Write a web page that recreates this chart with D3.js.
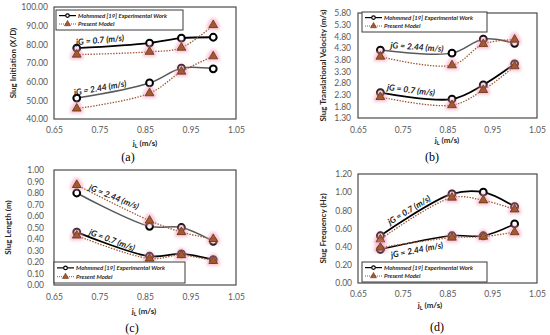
<!DOCTYPE html>
<html><head><meta charset="utf-8">
<script src="https://cdn.jsdelivr.net/npm/d3@7"></script>
<style>body{margin:0;background:#fff} svg{display:block}</style>
</head><body><svg id="c" width="550" height="335"></svg>
<script>
// ---------- data ----------
const jL = [0.70, 0.86, 0.93, 1.00];
const xTicks = [0.65, 0.75, 0.85, 0.95, 1.05];
const legendLabels = ["Mohmmed [19] Experimental Work", "Present Model"];
const jgLabels = ["jG = 0.7 (m/s)", "jG = 2.44 (m/s)"];
const panelLetters = ["(a)", "(b)", "(c)", "(d)"];
const yTitles = ["Slug Initiation (X/D)", "Slug Translational Velocity (m/s)", "Slug Length (m)", "Slug Frequency  (Hz)"];

// (a) Slug initiation
const aTicks = [40, 50, 60, 70, 80, 90, 100];
const aExp07  = [78.0, 80.7, 83.3, 83.8];
const aMod07  = [74.5, 76.0, 78.2, 90.3];
const aExp244 = [51.2, 59.3, 67.2, 66.9];
const aMod244 = [45.6, 53.8, 65.4, 73.6];

// (b) Slug translational velocity
const bTicks = [1.30, 1.80, 2.30, 2.80, 3.30, 3.80, 4.30, 4.80, 5.30, 5.80];
const bExp244 = [4.21, 4.08, 4.68, 4.50];
const bMod244 = [3.93, 3.56, 4.47, 4.66];
const bExp07  = [2.39, 2.11, 2.72, 3.62];
const bMod07  = [2.20, 1.85, 2.50, 3.52];

// (c) Slug length
const cTicks = [0.00, 0.10, 0.20, 0.30, 0.40, 0.50, 0.60, 0.70, 0.80, 0.90, 1.00];
const cExp244 = [0.80, 0.51, 0.50, 0.38];
const cMod244 = [0.87, 0.56, 0.46, 0.40];
const cExp07  = [0.46, 0.25, 0.27, 0.22];
const cMod07  = [0.43, 0.23, 0.26, 0.21];

// (d) Slug frequency
const dTicks = [0.00, 0.20, 0.40, 0.60, 0.80, 1.00, 1.20];
const dExp07  = [0.52, 0.98, 1.00, 0.84];
const dMod07  = [0.48, 0.94, 0.91, 0.81];
const dExp244 = [0.37, 0.52, 0.52, 0.65];
const dMod244 = [0.39, 0.50, 0.51, 0.56];

// ---------- layout ----------
const panels = [
  {letter:0, title:0, ticks:aTicks, x0:54, x1:236, y0:7, y1:119, tickGap:6, titleX:13,
   exp:[aExp07, aExp244], mod:[aMod07, aMod244], expColor:["#000","#595959"],
   legend:{x:56,y:10,w:127,h:20},
   ann:[{t:0,x:100,y:40,r:-5},{t:1,x:100,y:88,r:-10}],
   xlab:{x:145,y:146}, pl:{x:128,y:161}, xTickY:134},
  {letter:1, title:1, ticks:bTicks, x0:358, x1:537, y0:13, y1:118, tickGap:7, titleX:323,
   exp:[bExp07, bExp244], mod:[bMod07, bMod244], expColor:["#000","#595959"],
   legend:{x:362,y:12,w:125,h:20},
   ann:[{t:1,x:417,y:47,r:4},{t:0,x:411,y:90,r:7}],
   xlab:{x:447,y:143}, pl:{x:432,y:161}, xTickY:134},
  {letter:2, title:2, ticks:cTicks, x0:54, x1:236, y0:170, y1:285, tickGap:10, titleX:8,
   exp:[cExp07, cExp244], mod:[cMod07, cMod244], expColor:["#000","#595959"],
   legend:{x:54,y:262,w:131,h:21},
   ann:[{t:1,x:114,y:197,r:22},{t:0,x:112,y:240,r:20}],
   xlab:{x:144,y:314}, pl:{x:132,y:332}, xTickY:301},
  {letter:3, title:3, ticks:dTicks, x0:358, x1:537, y0:174, y1:283, tickGap:6, titleX:323,
   exp:[dExp07, dExp244], mod:[dMod07, dMod244], expColor:["#000","#000"],
   legend:{x:362,y:262,w:125,h:20},
   ann:[{t:0,x:409,y:210,r:-31},{t:1,x:417,y:250,r:-11}],
   xlab:{x:430,y:308}, pl:{x:437,y:331}, xTickY:298}
];

const svg = d3.select("#c");
const defs = svg.append("defs");
const f = defs.append("filter").attr("id","glow").attr("x","-1").attr("y","-1").attr("width","3").attr("height","3");
f.append("feMorphology").attr("operator","dilate").attr("radius","2").attr("in","SourceAlpha").attr("result","d");
f.append("feGaussianBlur").attr("in","d").attr("stdDeviation","1.4").attr("result","b");
f.append("feFlood").attr("flood-color","#f19bb5").attr("flood-opacity","0.55");
f.append("feComposite").attr("in2","b").attr("operator","in").attr("result","g");
const fm = f.append("feMerge"); fm.append("feMergeNode").attr("in","g"); fm.append("feMergeNode").attr("in","SourceGraphic");

const FONT = "Lato, 'Open Sans', sans-serif";
const MODC = "#a0522d";
const tri = d3.symbol().type(d3.symbolTriangle).size(34);
const triSmall = d3.symbol().type(d3.symbolTriangle).size(16);

panels.forEach(p => {
  const g = svg.append("g");
  const x = d3.scaleLinear().domain([0.65, 1.05]).range([p.x0, p.x1]);
  const y = d3.scaleLinear().domain([p.ticks[0], p.ticks[p.ticks.length-1]]).range([p.y1, p.y0]);

  // frame
  g.append("rect").attr("x", p.x0).attr("y", p.y0).attr("width", p.x1-p.x0).attr("height", p.y1-p.y0)
    .attr("fill","none").attr("stroke","#3a3a3a").attr("stroke-width",1.1);

  // y axis
  const ya = d3.axisLeft(y).tickValues(p.ticks).tickFormat(d3.format(".2f")).tickSize(0).tickPadding(p.tickGap);
  const yg = g.append("g").attr("transform",`translate(${p.x0},0)`).call(ya);
  yg.select(".domain").remove();
  yg.selectAll("text").attr("fill","#595959").style("font-family",FONT).style("font-size","8.5px");

  // x axis
  const xa = d3.axisBottom(x).tickValues(xTicks).tickFormat(d3.format(".2f")).tickSize(0).tickPadding(0);
  const xg = g.append("g").attr("transform",`translate(0,${p.xTickY-7})`).call(xa);
  xg.select(".domain").remove();
  xg.selectAll("text").attr("fill","#595959").style("font-family",FONT).style("font-size","8.5px");

  // y title
  g.append("text").attr("transform",`translate(${p.titleX},${(p.y0+p.y1)/2}) rotate(-90)`)
    .attr("text-anchor","middle").attr("dy","0.35em").attr("fill","#262626")
    .style("font-family",FONT).style("font-weight","bold").style("font-size","8px").text(yTitles[p.title]);

  // x title jL (m/s)
  const xt = g.append("text").attr("x",p.xlab.x).attr("y",p.xlab.y).attr("text-anchor","middle")
    .attr("fill","#262626").style("font-family",FONT).style("font-weight","bold").style("font-size","8px");
  xt.append("tspan").text("j");
  xt.append("tspan").attr("font-size","5.5px").attr("dy","1.5").text("L");
  xt.append("tspan").attr("dy","-1.5").text(" (m/s)");

  // panel letter
  g.append("text").attr("x",p.pl.x).attr("y",p.pl.y).attr("text-anchor","middle")
    .attr("fill","#000").style("font-family","'Liberation Serif', serif").style("font-size","12px")
    .text(panelLetters[p.letter]);

  const line = d3.line().x((d,i)=>x(jL[i])).y(d=>y(d)).curve(d3.curveCatmullRom.alpha(0.5));

  // experimental series
  p.exp.forEach((s,k) => {
    g.append("path").attr("d", line(s)).attr("fill","none")
      .attr("stroke", p.expColor[k]).attr("stroke-width", k===0 ? 1.8 : 1.5);
  });
  // model lines
  p.mod.forEach(s => {
    g.append("path").attr("d", line(s)).attr("fill","none")
      .attr("stroke", MODC).attr("stroke-width",1.3).attr("stroke-dasharray","1.4,1.4");
  });
  // exp markers
  p.exp.forEach(s => {
    g.selectAll(null).data(s).enter().append("circle")
      .attr("cx",(d,i)=>x(jL[i])).attr("cy",d=>y(d)).attr("r",3.4)
      .attr("fill","#fff").attr("stroke","#000").attr("stroke-width",2);
  });
  // model markers
  p.mod.forEach(s => {
    g.selectAll(null).data(s).enter().append("path")
      .attr("d", tri).attr("transform",(d,i)=>`translate(${x(jL[i])},${y(d)})`)
      .attr("fill","#a45a2c").attr("stroke","#6e3210").attr("stroke-width",0.9)
      .attr("filter","url(#glow)");
  });

  // annotations
  p.ann.forEach(a => {
    g.append("text").attr("transform",`translate(${a.x},${a.y}) rotate(${a.r})`)
      .attr("text-anchor","middle").attr("dy","0.35em").attr("fill","#1a1a1a")
      .style("font-family",FONT).style("font-weight","bold").style("font-style","italic").style("font-size","8.5px")
      .text(jgLabels[a.t]);
  });

  // legend
  const L = p.legend;
  const lg = g.append("g");
  lg.append("rect").attr("x",L.x).attr("y",L.y).attr("width",L.w).attr("height",L.h)
    .attr("fill","#fff").attr("stroke","#3a3a3a").attr("stroke-width",1);
  const r1 = L.y + L.h*0.28, r2 = L.y + L.h*0.70;
  lg.append("line").attr("x1",L.x+3).attr("x2",L.x+20).attr("y1",r1).attr("y2",r1).attr("stroke","#000").attr("stroke-width",1.2);
  lg.append("circle").attr("cx",L.x+11.5).attr("cy",r1).attr("r",1.8).attr("fill","#fff").attr("stroke","#000").attr("stroke-width",1.2);
  lg.append("line").attr("x1",L.x+3).attr("x2",L.x+20).attr("y1",r2).attr("y2",r2).attr("stroke",MODC).attr("stroke-width",1).attr("stroke-dasharray","1,1");
  lg.append("path").attr("d",triSmall).attr("transform",`translate(${L.x+11.5},${r2})`).attr("fill","#a45a2c").attr("stroke","#6e3210").attr("stroke-width",0.6);
  [r1, r2].forEach((ry,i) => {
    lg.append("text").attr("x",L.x+22).attr("y",ry).attr("dy","0.35em").attr("fill","#262626")
      .style("font-family",FONT).style("font-weight","bold").style("font-style","italic").style("font-size","6px")
      .text(legendLabels[i]);
  });
});
</script></body></html>
